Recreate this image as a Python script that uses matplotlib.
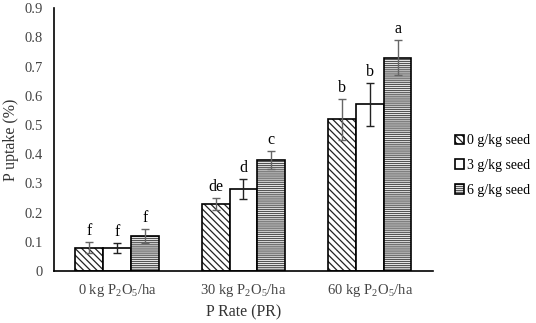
import numpy as np
import matplotlib
matplotlib.use("Agg")
import matplotlib.pyplot as plt

plt.rcParams['font.family'] = ['Liberation Serif', 'DejaVu Serif']
plt.rcParams['mathtext.fontset'] = 'custom'
plt.rcParams['mathtext.rm'] = 'Liberation Serif'
plt.rcParams['hatch.linewidth'] = 0.9

groups = [r'0 kg P$_2$O$_5$/ha', r'30 kg P$_2$O$_5$/ha', r'60 kg P$_2$O$_5$/ha']
series = ['0 g/kg seed', '3 g/kg seed', '6 g/kg seed']
values = [[0.08, 0.23, 0.52],
          [0.08, 0.28, 0.57],
          [0.12, 0.38, 0.73]]
errors = [[0.02, 0.02, 0.07],
          [0.017, 0.035, 0.075],
          [0.023, 0.03, 0.06]]
letters = [['f', 'de', 'b'],
           ['f', 'd', 'b'],
           ['f', 'c', 'a']]
hatches = ['\\\\\\\\\\', '', '--------']
hatch_cols = ['#222222', 'black', '#555555']
err_cols = ['#666666', '#222222', '#666666']

fig = plt.figure(figsize=(5.36, 3.23), dpi=100)
ax = fig.add_axes([0.1007, 0.161, 0.707, 0.814])

x = np.arange(len(groups))
w = 0.22
for i in range(3):
    pos = x + (i - 1) * w
    bars = ax.bar(pos, values[i], w, color='white', edgecolor='black',
                  linewidth=1.2, hatch=hatches[i], label=series[i])
    for b in bars:
        b._hatch_color = matplotlib.colors.to_rgba(hatch_cols[i])
    ax.errorbar(pos, values[i], yerr=errors[i], fmt='none', ecolor=err_cols[i],
                elinewidth=1.0, capsize=3, capthick=1.0)
    for p, v, e, t in zip(pos, values[i], errors[i], letters[i]):
        ax.text(p, v + e + 0.01, t, ha='center', va='bottom', fontsize=11.5)

ax.set_xlim(-0.5, 2.5)
ax.set_ylim(0, 0.9)
ax.set_yticks(np.arange(0, 0.91, 0.1))
ax.set_yticklabels(['0'] + ['%.1f' % v for v in np.arange(0.1, 0.91, 0.1)])
ax.set_xticks(x)
ax.set_xticklabels(groups)
ax.tick_params(axis='both', length=0, labelsize=10.5, labelcolor='#444444', pad=8)
for s in ['top', 'right']:
    ax.spines[s].set_visible(False)
ax.spines['left'].set_linewidth(1.2)
ax.spines['bottom'].set_linewidth(1.2)
ax.set_ylabel('P uptake (%)', fontsize=11.5, color='#333333')
ax.set_xlabel('P Rate (PR)', fontsize=11.5, labelpad=4, color='#333333')

fig.legend(loc='center left', bbox_to_anchor=(0.848, 0.487), frameon=False,
           fontsize=10, handlelength=0.7, handleheight=0.7, handletextpad=0.2,
           labelspacing=0.85, borderaxespad=0, borderpad=0)

fig.savefig('out.png', dpi=100)
